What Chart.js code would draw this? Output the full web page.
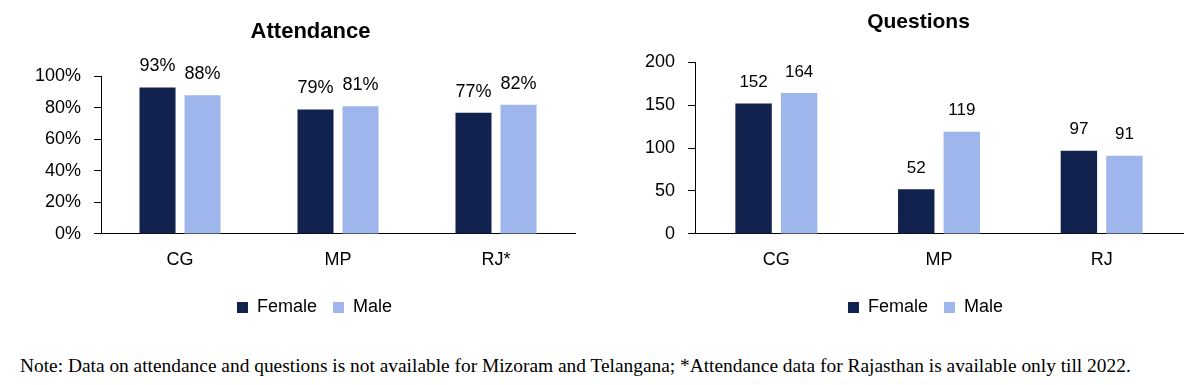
<!DOCTYPE html>
<html lang="en">
  <head>
    <meta charset="UTF-8" />
    <script src="https://cdn.jsdelivr.net/npm/chart.js"></script>
    <title>Attendance and Questions</title>
    <style>
      body { margin: 0; background: #fff; width: 1200px; height: 385px; position: relative; overflow: hidden; }
      #attendance { position: absolute; left: 0; top: 0; }
      #questions { position: absolute; left: 600px; top: 0; }
      #note {
        position: absolute;
        left: 20px;
        top: 355px;
        font-family: "Liberation Serif", "Times New Roman", serif;
        font-size: 19.4px;
        color: #000;
        white-space: nowrap;
      }
    </style>
  </head>
  <body>
    <canvas id="attendance" width="600" height="330"></canvas>
    <canvas id="questions" width="600" height="330"></canvas>
    <div id="note">Note: Data on attendance and questions is not available for Mizoram and Telangana; *Attendance data for Rajasthan is available only till 2022.</div>
    <script>
      // attendance chart
      const attendanceStates = ['CG', 'MP', 'RJ*'];
      const attendanceFemale = [0.93, 0.79, 0.77];
      const attendanceMale = [0.88, 0.81, 0.82];
      const attendanceTicks = [0, 0.2, 0.4, 0.6, 0.8, 1.0];

      // questions chart
      const questionStates = ['CG', 'MP', 'RJ'];
      const questionsFemale = [152, 52, 97];
      const questionsMale = [164, 119, 91];
      const questionTicks = [0, 50, 100, 150, 200];

      const FEMALE = '#12224f';
      const MALE = '#9eb6ec';
      const FONT = 'Arial, "Liberation Sans", sans-serif';

      Chart.defaults.font.family = FONT;
      Chart.defaults.color = '#000';

      // simple value labels above each bar
      const barLabels = {
        id: 'barLabels',
        afterDatasetsDraw(chart, args, opts) {
          const ctx = chart.ctx;
          ctx.save();
          ctx.font = `${opts.size}px ${FONT}`;
          ctx.fillStyle = '#000';
          ctx.textAlign = 'center';
          ctx.textBaseline = 'middle';
          chart.data.datasets.forEach((ds, i) => {
            chart.getDatasetMeta(i).data.forEach((bar, j) => {
              ctx.fillText(opts.format(ds.data[j]), bar.x, bar.y - opts.offset);
            });
          });
          ctx.restore();
        }
      };

      // nudge title and legend sideways (they sit a bit right of centre in the original)
      const nudge = {
        id: 'nudge',
        afterLayout(chart, args, opts) {
          if (chart.titleBlock) {
            chart.titleBlock.left += opts.title;
            chart.titleBlock.right += opts.title;
          }
          if (chart.legend) {
            chart.legend.left += opts.legend;
            chart.legend.right += opts.legend;
          }
        }
      };

      function makeChart(id, labels, female, male, ticks, cfg) {
        return new Chart(document.getElementById(id), {
          type: 'bar',
          data: {
            labels: labels,
            datasets: [
              { label: 'Female', data: female, backgroundColor: FEMALE },
              { label: 'Male', data: male, backgroundColor: MALE }
            ]
          },
          options: {
            responsive: false,
            animation: false,
            datasets: { bar: { categoryPercentage: cfg.catPct, barPercentage: 0.8 } },
            layout: { padding: { left: cfg.padLeft, right: cfg.padRight, top: 0, bottom: 3.5 } },
            scales: {
              x: {
                grid: { display: true, drawOnChartArea: false, drawTicks: false },
                border: { display: true, color: '#000', width: 1 },
                ticks: { font: { size: 18 }, padding: 15 },
                afterFit(scale) { scale.height -= 3; }
              },
              y: {
                min: 0,
                max: ticks[ticks.length - 1],
                afterBuildTicks(scale) { scale.ticks = ticks.map(v => ({ value: v })); },
                grid: { display: true, drawOnChartArea: false, drawTicks: true, tickLength: 7, color: '#000' },
                border: { display: true, color: '#000', width: 1 },
                ticks: {
                  font: { size: 18 },
                  padding: 13,
                  callback: cfg.yFormat
                }
              }
            },
            plugins: {
              title: {
                display: true,
                text: cfg.title,
                font: { size: cfg.titleSize, weight: 'bold' },
                padding: { top: cfg.titleTop, bottom: cfg.titleBottom }
              },
              legend: {
                position: 'bottom',
                labels: { boxWidth: 11, boxHeight: 11, padding: 16, font: { size: 18 } }
              },
              tooltip: { enabled: false },
              barLabels: { size: cfg.labelSize, offset: 21, format: cfg.labelFormat },
              nudge: { title: cfg.titleShift, legend: cfg.legendShift }
            }
          },
          plugins: [barLabels, nudge]
        });
      }

      makeChart('attendance', attendanceStates, attendanceFemale, attendanceMale, attendanceTicks, {
        title: 'Attendance', titleSize: 22, titleTop: 19, titleBottom: 31,
        padLeft: 22, padRight: 25, catPct: 0.57, labelSize: 18,
        titleShift: 12, legendShift: 16,
        yFormat: v => Math.round(v * 100) + '%',
        labelFormat: v => Math.round(v * 100) + '%'
      });

      makeChart('questions', questionStates, questionsFemale, questionsMale, questionTicks, {
        title: 'Questions', titleSize: 21, titleTop: 10, titleBottom: 27,
        padLeft: 32, padRight: 17, catPct: 0.56, labelSize: 17,
        titleShift: 11, legendShift: 18,
        yFormat: v => v,
        labelFormat: v => v
      });
    </script>
  </body>
</html>
